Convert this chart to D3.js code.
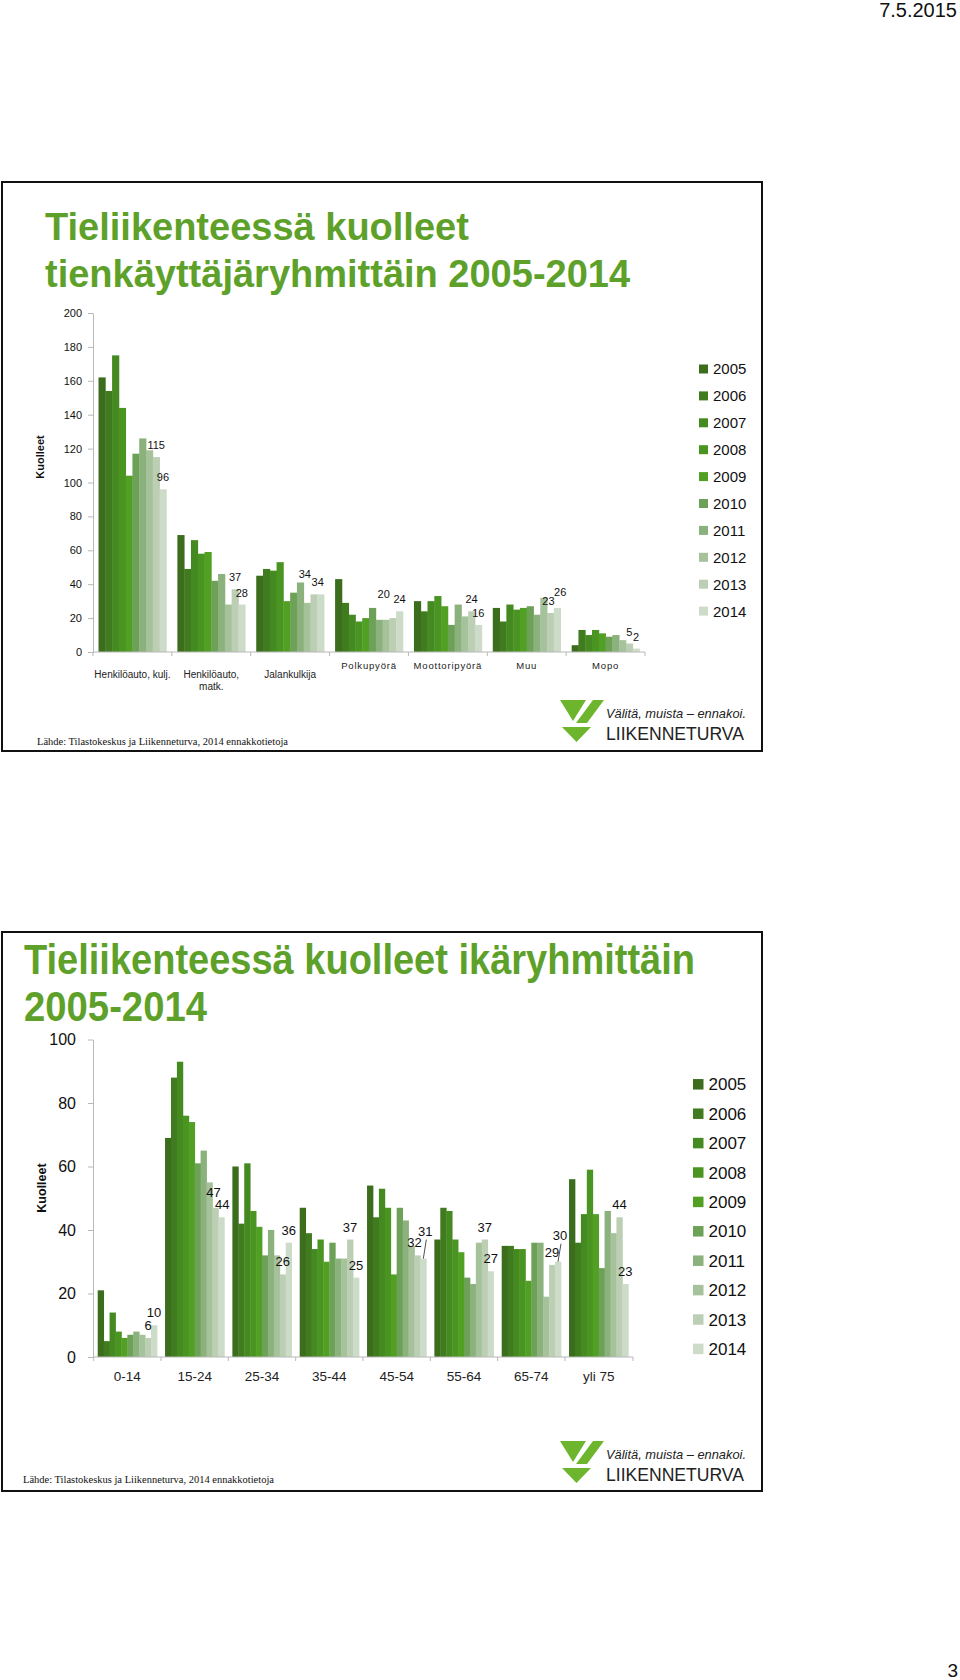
<!DOCTYPE html>
<html><head><meta charset="utf-8">
<script src="https://cdn.jsdelivr.net/npm/d3@7"></script>
<style>body{margin:0;background:#fff} svg{display:block}</style>
</head><body><svg id="c" width="960" height="1680"></svg>
<script>
// ---------- DATA ----------
const years = ["2005","2006","2007","2008","2009","2010","2011","2012","2013","2014"];
const colors = ["#3b6d1d","#407b1f","#458a21","#4a9522","#51a024","#6ea158","#8bb17d","#a5c29a","#bccfb4","#cddcc8"];

const userGroups = ["Henkilöauto, kulj.","Henkilöauto, matk.","Jalankulkija","Polkupyörä","Moottoripyörä","Muu","Mopo"];
const userGroupLines = [["Henkilöauto, kulj."],["Henkilöauto,","matk."],["Jalankulkija"],["Polkupyörä"],["Moottoripyörä"],["Muu"],["Mopo"]];
const userHenkKulj = [162,154,175,144,104,117,126,119,115,96];
const userHenkMatk = [69,49,66,58,59,42,46,28,37,28];
const userJalank   = [45,49,48,53,30,35,41,29,34,34];
const userPolku    = [43,29,22,18,20,26,19,19,20,24];
const userMoott    = [30,24,30,33,27,16,28,21,24,16];
const userMuu      = [26,18,28,25,26,27,22,32,23,26];
const userMopo     = [4,13,10,13,11,9,10,7,5,2];
const userValues = [userHenkKulj,userHenkMatk,userJalank,userPolku,userMoott,userMuu,userMopo];
const userTicks = [0,20,40,60,80,100,120,140,160,180,200];

const ageGroups = ["0-14","15-24","25-34","35-44","45-54","55-64","65-74","yli 75"];
const age0_14  = [21,5,14,8,6,7,8,7,6,10];
const age15_24 = [69,88,93,76,74,61,65,55,47,44];
const age25_34 = [60,42,61,46,41,32,40,32,26,36];
const age35_44 = [47,39,34,37,30,36,31,31,37,25];
const age45_54 = [54,44,53,47,26,47,43,35,32,31];
const age55_64 = [37,47,46,37,33,25,23,36,37,27];
const age65_74 = [35,35,34,34,24,36,36,19,29,30];
const ageYli75 = [56,36,45,59,45,28,46,39,44,23];
const ageValues = [age0_14,age15_24,age25_34,age35_44,age45_54,age55_64,age65_74,ageYli75];
const ageTicks = [0,20,40,60,80,100];

const labelYears = ["2013","2014"];

// ---------- DRAW ----------
const FONT = "'Liberation Sans', Arial, Helvetica, sans-serif";
const svg = d3.select("#c").attr("font-family", FONT);

svg.append("text").attr("x",957).attr("y",17).attr("text-anchor","end")
  .attr("font-size",20).attr("fill","#111").text("7.5.2015");
svg.append("text").attr("x",958).attr("y",1677).attr("text-anchor","end")
  .attr("font-size",19).attr("fill","#111").text("3");

// frames
svg.append("rect").attr("x",2).attr("y",182).attr("width",760).attr("height",569)
  .attr("fill","none").attr("stroke","#111").attr("stroke-width",2);
svg.append("rect").attr("x",2).attr("y",932).attr("width",760).attr("height",559)
  .attr("fill","none").attr("stroke","#111").attr("stroke-width",2);

const titleGreen = "#5ea12a";
svg.append("text").attr("x",45).attr("y",240).attr("font-size",38).attr("font-weight","bold")
  .attr("fill",titleGreen).text("Tieliikenteessä kuolleet");
svg.append("text").attr("x",45).attr("y",287).attr("font-size",38).attr("font-weight","bold")
  .attr("fill",titleGreen).text("tienkäyttäjäryhmittäin 2005-2014");

svg.append("text").attr("x",24).attr("y",974).attr("font-size",43).attr("font-weight","bold")
  .attr("fill",titleGreen).attr("textLength",671).attr("lengthAdjust","spacingAndGlyphs")
  .text("Tieliikenteessä kuolleet ikäryhmittäin");
svg.append("text").attr("x",24).attr("y",1021).attr("font-size",43).attr("font-weight","bold")
  .attr("fill",titleGreen).attr("textLength",183).attr("lengthAdjust","spacingAndGlyphs")
  .text("2005-2014");

function barChart(o){
  const g = svg.append("g");
  const x = d3.scaleBand().domain(o.groups).range([o.x0,o.x1]).paddingInner(o.pi).paddingOuter(o.po);
  const xi = d3.scaleBand().domain(years).range([0,x.bandwidth()]);
  const y = d3.scaleLinear().domain([0,o.max]).range([o.y0,o.y1]);

  o.groups.forEach((grp,gi)=>{
    const gg = g.append("g").attr("transform",`translate(${x(grp)},0)`);
    gg.selectAll("rect").data(o.values[gi]).join("rect")
      .attr("x",(d,i)=>xi(years[i])).attr("width",xi.bandwidth()+0.4)
      .attr("y",d=>y(d)).attr("height",d=>y(0)-y(d)).attr("fill",(d,i)=>colors[i]);
  });

  // y axis
  const ya = g.append("g").attr("transform",`translate(${o.x0},0)`)
    .call(d3.axisLeft(y).tickValues(o.ticks).tickSize(o.tickSize).tickSizeOuter(0).tickPadding(o.tickPad));
  ya.select(".domain").attr("stroke","#b8b8b8");
  ya.selectAll(".tick line").attr("stroke","#b8b8b8");
  ya.selectAll(".tick text").attr("font-size",o.tickFont).attr("fill","#111").attr("font-family",FONT);

  // x axis line and boundary ticks
  g.append("line").attr("x1",o.x0).attr("x2",o.x1).attr("y1",y(0)).attr("y2",y(0)).attr("stroke","#b8b8b8");
  const bounds = o.groups.map(gr=>x(gr)-x.step()*x.paddingInner()/2);
  bounds.push(o.x1);
  g.selectAll(".xb").data(bounds).join("line").attr("class","xb")
    .attr("x1",d=>d).attr("x2",d=>d).attr("y1",y(0)).attr("y2",y(0)+4).attr("stroke","#b8b8b8");

  // x labels
  o.groups.forEach((grp,gi)=>{
    const st = o.xLabelStyle(gi);
    const t = g.append("text").attr("text-anchor","middle").attr("font-size",st.fs)
      .attr("fill","#222").attr("letter-spacing",st.ls||0);
    o.lines[gi].forEach((ln,li)=>{
      t.append("tspan").attr("x",x(grp)+x.bandwidth()/2).attr("y",st.y+li*st.lh).text(ln);
    });
  });

  // data labels
  o.groups.forEach((grp,gi)=>{
    labelYears.forEach(yr=>{
      const idx = years.indexOf(yr);
      const v = o.values[gi][idx];
      const nd = (o.nudge[grp+"|"+yr])||[0,0];
      const cx = x(grp)+xi(yr)+xi.bandwidth()/2;
      const ty = y(v)-o.labelGap-nd[1];
      g.append("text").attr("x",cx+nd[0]).attr("y",ty).attr("text-anchor","middle")
        .attr("font-size",o.labelFont).attr("fill","#111").text(v);
      if(nd[2]){
        g.append("line").attr("x1",cx+nd[0]+1).attr("y1",ty+4).attr("x2",cx).attr("y2",y(v))
          .attr("stroke","#222").attr("stroke-width",0.8);
      }
    });
  });

  // y title
  g.append("text").attr("transform",`translate(${o.ytX},${o.ytY}) rotate(-90)`)
    .attr("text-anchor","middle").attr("font-size",o.ytFont).attr("font-weight","bold")
    .attr("fill","#111").text("Kuolleet");

  // legend
  const lg = g.append("g");
  years.forEach((yr,i)=>{
    const cy = o.legY + i*o.legStep;
    lg.append("rect").attr("x",o.legX).attr("y",cy-o.legSq/2).attr("width",o.legSq).attr("height",o.legSq).attr("fill",colors[i]);
    lg.append("text").attr("x",o.legX+o.legSq+o.legGap).attr("y",cy).attr("dy","0.36em")
      .attr("font-size",o.legFont).attr("fill","#111").text(yr);
  });
}

barChart({
  groups:userGroups, lines:userGroupLines, values:userValues, ticks:userTicks, max:200,
  x0:93, x1:645, y0:652, y1:313, pi:0.14, po:0.07,
  tickSize:5, tickPad:6, tickFont:11, labelFont:11, labelGap:8,
  xLabelStyle:(i)=> i<3 ? {fs:10,y:678,lh:12} : {fs:9.5,y:669,lh:12,ls:0.8},
  nudge:{"Jalankulkija|2013":[-9,8],"Jalankulkija|2014":[-3,0],"Polkupyörä|2013":[-9,12],"Muu|2013":[-2,0],"Muu|2014":[3,4]},
  ytX:44, ytY:457, ytFont:11,
  legX:699, legY:369, legStep:26.9, legSq:9, legGap:5, legFont:15
});

barChart({
  groups:ageGroups, lines:ageGroups.map(d=>[d]), values:ageValues, ticks:ageTicks, max:100,
  x0:93, x1:633, y0:1357, y1:1039.5, pi:0.12, po:0.07,
  tickSize:5, tickPad:12, tickFont:16, labelFont:13, labelGap:8,
  xLabelStyle:()=>({fs:13.5,y:1381,lh:14}),
  nudge:{"15-24|2013":[-2,3],"15-24|2014":[1,0],"45-54|2013":[-3,0],"45-54|2014":[2,15,1],"65-74|2014":[2,14,1]},
  ytX:46, ytY:1188, ytFont:12.5,
  legX:693, legY:1084.3, legStep:29.4, legSq:10.5, legGap:5, legFont:17
});

// footers
function footer(x,y){
  svg.append("text").attr("x",x).attr("y",y).attr("font-family","'Liberation Serif', 'Times New Roman', serif")
    .attr("font-size",11).attr("fill","#111").attr("textLength",251).attr("lengthAdjust","spacingAndGlyphs")
    .text("Lähde: Tilastokeskus ja Liikenneturva, 2014 ennakkotietoja");
}
footer(37,745);
footer(23,1483);

// logo
function logo(x,y){
  const g = svg.append("g").attr("transform",`translate(${x},${y})`);
  const green = "#6cb52d";
  g.append("polygon").attr("points","0,0 26,0 13,21").attr("fill",green);
  g.append("polygon").attr("points","33,0 44,0 27,23 16,23").attr("fill",green);
  g.append("polygon").attr("points","2,27 31,27 16.5,42").attr("fill",green);
  g.append("text").attr("x",46).attr("y",18).attr("font-size",13).attr("font-style","italic")
    .attr("fill","#222").attr("textLength",140).attr("lengthAdjust","spacingAndGlyphs")
    .text("Välitä, muista – ennakoi.");
  g.append("text").attr("x",46).attr("y",40).attr("font-size",18)
    .attr("fill","#222").attr("textLength",138).attr("lengthAdjust","spacingAndGlyphs")
    .text("LIIKENNETURVA");
}
logo(560,700);
logo(560,1441);
</script></body></html>
